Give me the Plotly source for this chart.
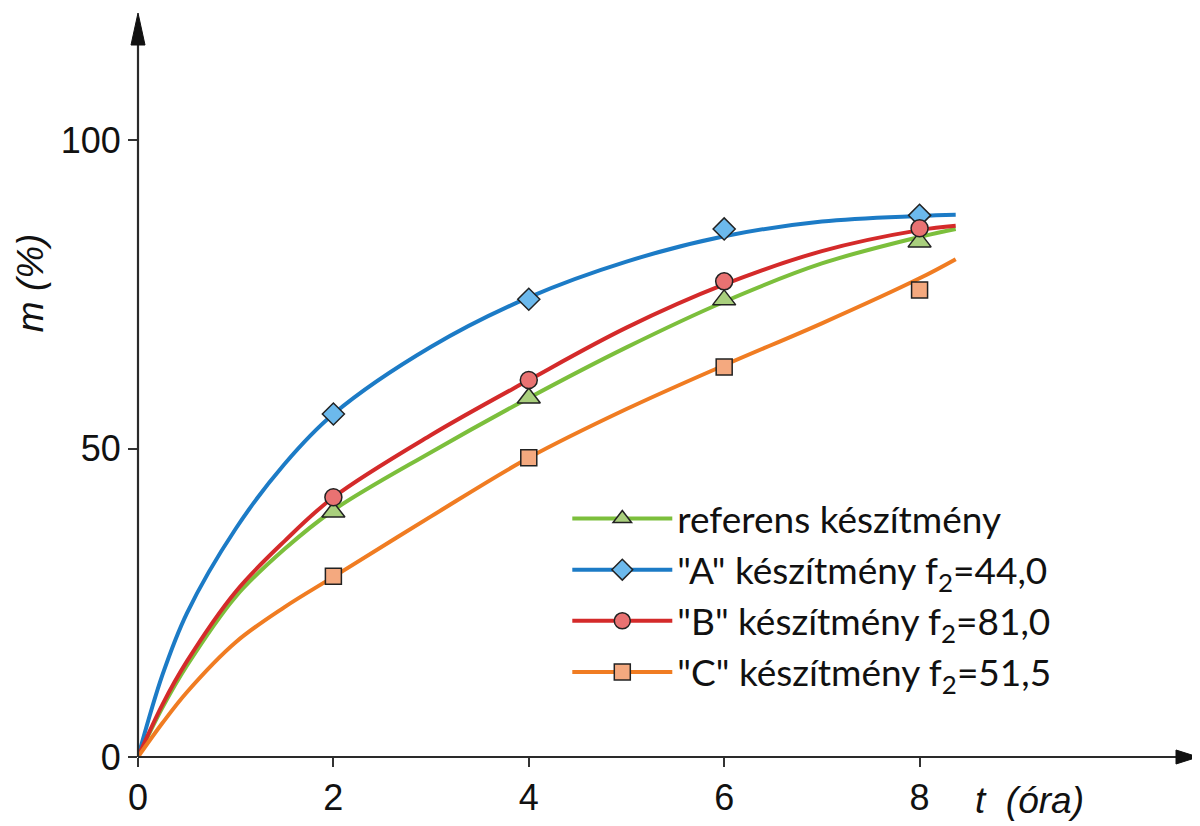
import plotly.graph_objects as go

# measured points
t_pts = [2, 4, 6, 8]
ref_pts = [39.7, 58.2, 74.1, 83.5]
a_pts = [55.6, 74.2, 85.6, 87.8]
b_pts = [42.1, 61.1, 77.1, 85.7]
c_pts = [29.3, 48.5, 63.2, 75.7]

# fitted curves
t_curve = [0, 0.25, 0.5, 1, 1.5, 2, 3, 4, 5, 6, 7, 8, 8.37]
ref_curve = [0, 8.0, 14.8, 26.0, 33.7, 40.0, 49.4, 58.2, 66.4, 73.8, 80.0, 84.3, 85.6]
a_curve = [0, 13.3, 23.3, 37.0, 47.5, 55.6, 66.5, 74.5, 80.3, 84.4, 86.8, 87.7, 87.9]
b_curve = [0, 8.5, 15.5, 26.8, 35.0, 42.1, 52.2, 61.1, 69.6, 76.6, 82.0, 85.4, 86.1]
c_curve = [0, 5.5, 10.5, 18.6, 24.3, 29.2, 39.0, 48.5, 56.4, 63.5, 70.3, 77.6, 80.7]

names = ["referens készítmény",
         "\"A\" készítmény f<sub>2</sub>=44,0",
         "\"B\" készítmény f<sub>2</sub>=81,0",
         "\"C\" készítmény f<sub>2</sub>=51,5"]

x_ticks = [0, 2, 4, 6, 8]
y_ticks = [0, 50, 100]

series = [
    (ref_curve, ref_pts, "#7cbf3c", "#a9cf7d", "triangle-up", 20),
    (a_curve, a_pts, "#1c7bc6", "#6cb9ec", "diamond", 17),
    (b_curve, b_pts, "#d42a2a", "#e97272", "circle", 17),
    (c_curve, c_pts, "#f07c22", "#f4a97f", "square", 16),
]

fig = go.Figure()
for curve, pts, lc, fc, sym, sz in series:
    fig.add_trace(go.Scatter(x=t_curve, y=curve, mode="lines",
                             line=dict(color=lc, width=4, shape="spline", smoothing=1.0),
                             showlegend=False, hoverinfo="skip"))
for curve, pts, lc, fc, sym, sz in series:
    fig.add_trace(go.Scatter(x=t_pts, y=pts, mode="markers",
                             marker=dict(symbol=sym, size=sz, color=fc,
                                         line=dict(color="#222222", width=1.5)),
                             showlegend=False))
for (curve, pts, lc, fc, sym, sz), nm in zip(series, names):
    fig.add_trace(go.Scatter(x=[None], y=[None], mode="lines+markers", name=nm,
                             line=dict(color=lc, width=4),
                             marker=dict(symbol=sym, size=sz, color=fc,
                                         line=dict(color="#222222", width=1.5))))

XMAX = 10.85
YMAX = 120.6

fig.update_layout(
    width=1192, height=818,
    margin=dict(l=130, r=2, t=5, b=69, autoexpand=False),
    paper_bgcolor="white", plot_bgcolor="white",
    showlegend=True,
    legend=dict(x=0.405, y=0.3615, xanchor="left", yanchor="top",
                bgcolor="rgba(0,0,0,0)", itemwidth=100,
                font=dict(family="Lato", size=37, color="#111111"),
                tracegroupgap=0, itemsizing="trace"),
    xaxis=dict(range=[0, XMAX], tickvals=x_ticks, ticks="outside", ticklen=9,
               tickwidth=1.5, tickcolor="#333", showline=False, showgrid=False,
               zeroline=False, tickfont=dict(family="Liberation Sans", size=36, color="#111")),
    yaxis=dict(range=[0, YMAX], tickvals=y_ticks, ticks="outside", ticklen=9,
               tickwidth=1.5, tickcolor="#333", showline=False, showgrid=False,
               zeroline=False, tickfont=dict(family="Liberation Sans", size=36, color="#111")),
)

# axis lines with arrowheads (paper coordinates, not clipped)
fig.add_shape(type="line", xref="paper", yref="paper", x0=0, x1=0.99, y0=0, y1=0,
              line=dict(color="#2a2a2a", width=2.2))
fig.add_shape(type="line", xref="paper", yref="paper", x0=0, x1=0, y0=0, y1=0.98,
              line=dict(color="#2a2a2a", width=2.2))
fig.add_shape(type="path", xref="paper", yref="paper", xsizemode="pixel", ysizemode="pixel",
              xanchor=1, yanchor=0, path="M-22,-7 L-22,7 L0,0 Z",
              fillcolor="#111", line=dict(color="#111", width=1))
fig.add_shape(type="path", xref="paper", yref="paper", xsizemode="pixel", ysizemode="pixel",
              xanchor=0, yanchor=1, path="M-7,-32 L7,-32 L0,0 Z",
              fillcolor="#111", line=dict(color="#111", width=1))

fig.add_annotation(text="<i>m (%)</i>", textangle=-90, xref="paper", yref="paper",
                   x=-0.102, y=0.638, showarrow=False, xanchor="center", yanchor="middle",
                   font=dict(family="Liberation Sans", size=37, color="#111"))
fig.add_annotation(text="<i>t  (óra)</i>", xref="paper", yref="paper",
                   x=0.8415, y=-0.058, showarrow=False, xanchor="center", yanchor="middle",
                   font=dict(family="Liberation Sans", size=37, color="#111"))

fig.write_html("out.html")
